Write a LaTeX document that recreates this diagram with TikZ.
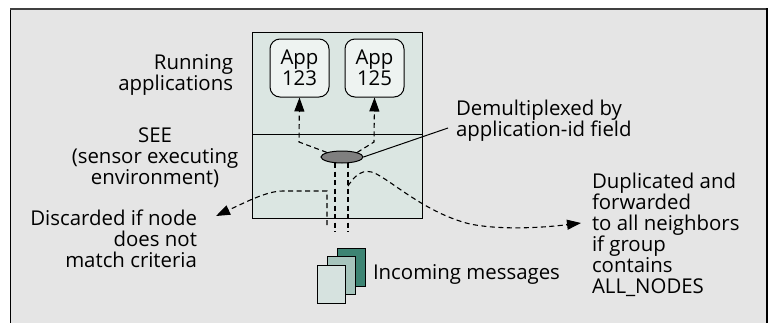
\documentclass[tikz,border=0pt]{standalone}
\usepackage{fontspec}
\setmainfont{Open Sans}
\usetikzlibrary{arrows.meta,shapes.geometric}
\definecolor{panel}{HTML}{E5E5E5}
\definecolor{seefill}{HTML}{DBE6E2}
\definecolor{appfill}{HTML}{EEF3F1}
\definecolor{ellfill}{HTML}{7F7F7F}
\definecolor{paperA}{HTML}{3D8473}
\definecolor{paperB}{HTML}{A6C4BC}
\definecolor{paperC}{HTML}{D6E2DF}
\begin{document}
\begin{tikzpicture}[x=1pt,y=-1pt,
  font=\fontsize{20.4}{21}\selectfont,
  lbl/.style={inner sep=0pt, outer sep=0pt},
  dsh/.style={dash pattern=on 5pt off 3.5pt, line width=1.1pt},
  tip/.style={-{Triangle[length=14pt,width=10pt]}},
  appbox/.style={draw, line width=1pt, rounded corners=10pt, fill=appfill,
    minimum width=59pt, minimum height=58pt, inner sep=0pt, align=center,
    font=\fontsize{20.4}{19.5}\selectfont},
  paper/.style={draw, line width=1pt, minimum width=28pt, minimum height=38pt, inner sep=0pt}]
\fill[white] (0,0) rectangle (773,322);
\useasboundingbox (0,0) rectangle (773,322);
% panel
\fill[panel] (10,8) rectangle (768,323);
\draw[line width=1pt] (10,323) -- (10,8);
\draw[line width=2pt, black!75] (10,9) -- (768,9);
\draw[line width=2pt] (767,8) -- (767,323);
% SEE box
\node[draw, line width=1pt, fill=seefill, minimum width=170pt, minimum height=186pt, inner sep=0pt] (seebox) at (337,125) {};
\coordinate (divL) at (252,134);
\coordinate (divR) at (422,134);
\draw[line width=1pt] (divL) -- (divR);
% apps
\node[appbox] (app1) at (299.5,68) {App\\123};
\node[appbox] (app2) at (374.5,68) {App\\125};
% ellipse
\node[ellipse, draw, line width=1pt, fill=ellfill, minimum width=42pt, minimum height=12pt, inner sep=0pt] (ell) at (342,157) {};
% dashed to apps
\coordinate (j1) at (299,142);
\coordinate (j2) at (374,142);
\draw[dsh,tip] (ell.north west) -- (j1) -- (app1.south);
\draw[dsh,tip] (ell.north east) -- (j2) -- (app2.south);
% vertical incoming lines
\coordinate (v1t) at (335,163); \coordinate (v1b) at (335,232);
\coordinate (v2t) at (348,163); \coordinate (v2b) at (348,232);
\draw[dsh] (v1t) -- (v1b);
\draw[dsh] (v2t) -- (v2b);
% discard path
\coordinate (d0) at (327,225);
\coordinate (d1) at (327,191);
\coordinate (d2) at (283,191);
\coordinate (dtip) at (216,216);
\draw[dsh,tip] (d0) -- (d1) -- (d2) .. controls (268,191) and (250,200) .. (dtip);
% duplicate path
\coordinate (u0) at (348,186);
\coordinate (utip) at (581,223);
\draw[dsh,tip] (u0) .. controls (358,170) and (368,168) .. (380,176)
  .. controls (400,188) and (430,214) .. (470,224) .. controls (500,230) and (540,228) .. (utip);
% labels
\node[lbl, anchor=north east, align=right] (run) at (233,55) {Running\\applications};
\node[lbl, anchor=north, align=center] (see) at (155,128) {SEE\\(sensor executing\\environment)};
\node[lbl, anchor=north east, align=right] (disc) at (197,210) {Discarded if node\\does not\\match criteria};
\node[lbl, anchor=north west, align=left] (demux) at (456,100) {Demultiplexed by\\application-id field};
\node[lbl, anchor=north west, align=left] (dup) at (592,173) {Duplicated and\\forwarded\\to all neighbors\\if group\\contains\\ALL\_NODES};
\node[lbl, anchor=base west] (inc) at (373,279) {Incoming messages};
\coordinate (demuxpt) at (448,128);
\draw[line width=1pt] (ell.east) -- (demuxpt);
% papers
\node[paper, fill=paperA] (pa) at (351.5,267) {};
\node[paper, fill=paperB] (pb) at (341,275.5) {};
\node[paper, fill=paperC] (pc) at (331,284) {};
\end{tikzpicture}
\end{document}
